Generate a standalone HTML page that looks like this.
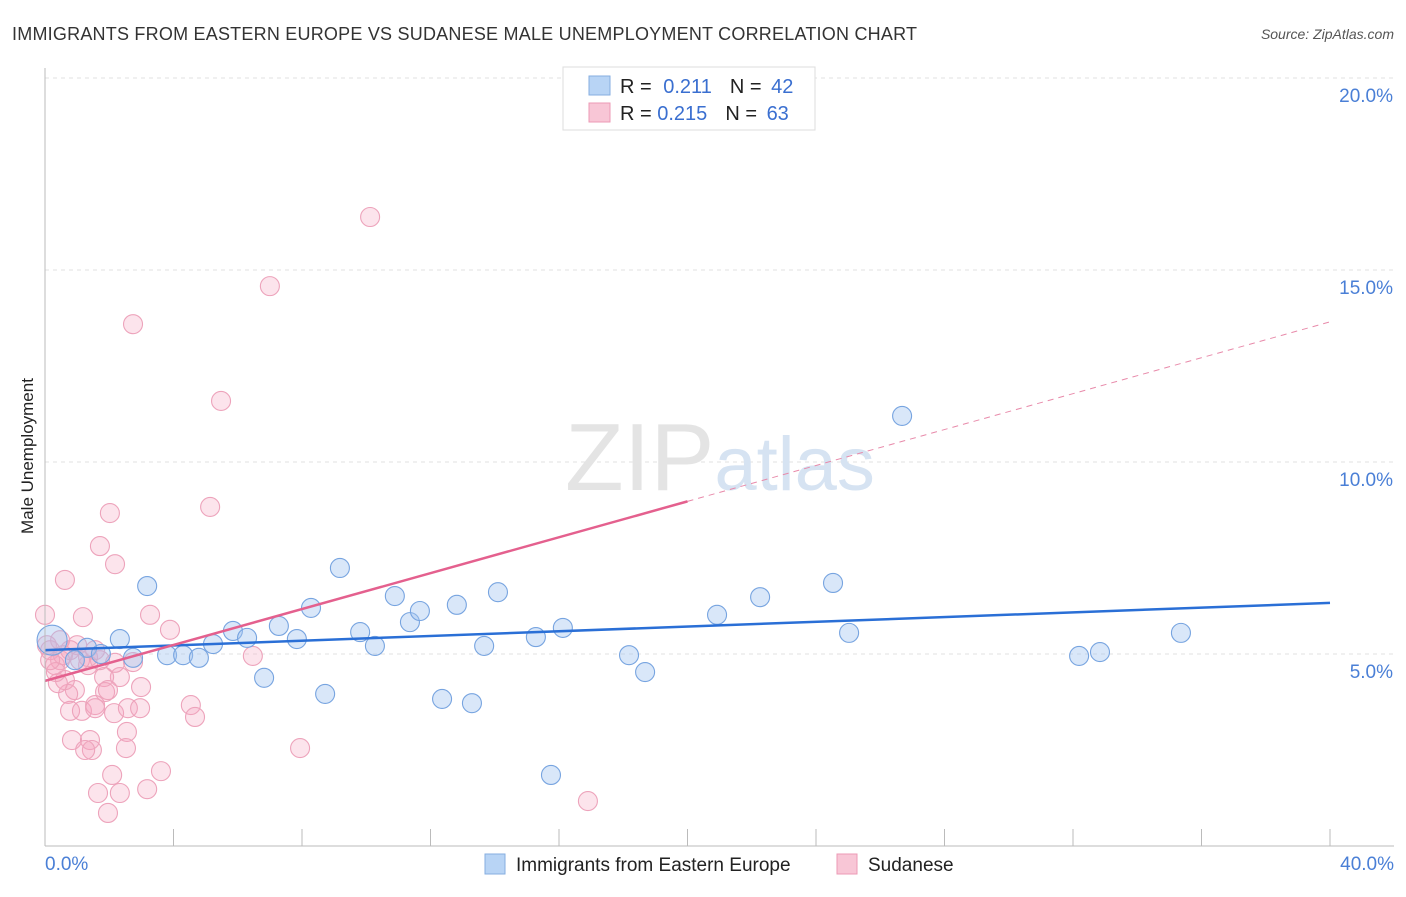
<!DOCTYPE html>
<html><head><meta charset="utf-8"><style>
body{margin:0;background:#fff;font-family:"Liberation Sans",sans-serif;}
svg text{font-family:"Liberation Sans",sans-serif;}
</style></head><body>
<svg id="chart" width="1406" height="892">
<text x="12" y="40" font-size="18" fill="#333" textLength="905">IMMIGRANTS FROM EASTERN EUROPE VS SUDANESE MALE UNEMPLOYMENT CORRELATION CHART</text>
<text x="1394" y="39" font-size="14" fill="#555" font-style="italic" text-anchor="end">Source: ZipAtlas.com</text>
<text x="33" y="456" font-size="17" fill="#222" text-anchor="middle" transform="rotate(-90 33 456)">Male Unemployment</text>
<g id="grid"></g>
<g id="wm"><text x="720" y="490" font-size="96" fill="#e4e4e4" text-anchor="middle" font-family="Liberation Serif"><tspan>ZIP</tspan><tspan fill="#d6e3f2" font-family="Liberation Sans" font-size="76">atlas</tspan></text></g>
<g id="pts"></g>
<g id="lines"></g>
<g id="axes"></g>
<g>
<rect x="563" y="67" width="252" height="63" fill="#fff" stroke="#ddd"/>
<rect x="589" y="76" width="21" height="19" fill="#b8d4f5" stroke="#86aee0"/>
<rect x="589" y="103" width="21" height="19" fill="#f8c6d6" stroke="#ec9ab5"/>
<text x="620" y="93" font-size="20" fill="#222">R = <tspan fill="#3a6fd0" dx="6">0.211</tspan><tspan fill="#222" dx="18">N = </tspan><tspan fill="#3a6fd0" dx="4">42</tspan></text>
<text x="620" y="120" font-size="20" fill="#222">R = <tspan fill="#3a6fd0">0.215</tspan><tspan fill="#222" dx="18">N = </tspan><tspan fill="#3a6fd0" dx="4">63</tspan></text>
</g>
<g>
<rect x="485" y="854" width="20" height="20" fill="#b8d4f5" stroke="#86aee0"/>
<text x="516" y="871" font-size="19" fill="#222">Immigrants from Eastern Europe</text>
<rect x="837" y="854" width="20" height="20" fill="#f8c6d6" stroke="#ec9ab5"/>
<text x="868" y="871" font-size="19" fill="#222">Sudanese</text>
</g>
</svg>
<script>
const blueX=[3.18,2.33,1.31,1.74,2.74,3.80,4.30,4.79,5.23,5.85,6.29,6.82,7.28,7.84,8.28,8.72,9.18,9.81,10.27,10.89,11.36,11.67,12.36,12.82,13.29,13.67,14.10,15.28,15.75,16.12,18.18,18.68,20.92,22.26,24.53,25.03,26.68,32.19,32.84,35.36,0.22,0.93];
const blueY=[6.77,5.39,5.16,5.00,4.90,4.97,4.97,4.90,5.26,5.60,5.42,4.38,5.73,5.39,6.20,3.96,7.24,5.57,5.21,6.51,5.83,6.12,3.83,6.28,3.72,5.21,6.61,5.44,1.85,5.68,4.97,4.53,6.02,6.48,6.85,5.55,11.20,4.95,5.05,5.55,5.36,4.84];
const pinkX=[0,0.62,1.18,2.02,1.71,2.18,2.74,3.27,3.89,5.14,5.48,7.00,10.12,6.47,7.94,16.90,4.54,4.67,2.74,2.33,1.84,1.87,1.96,0.93,0.72,0.78,1.15,1.56,1.56,2.15,2.58,2.96,2.99,0.84,1.40,1.46,1.25,2.55,2.52,2.09,3.61,3.18,1.65,2.33,1.96,1.00,1.34,0.47,0.16,0.31,0.56,0.06,0.62,0.40,1.09,1.71,0.78,1.34,0.34,0.16,1.56,2.18,0.47];
const pinkY=[6.02,6.93,5.96,8.67,7.81,7.34,13.59,6.02,5.63,8.83,11.59,14.58,16.38,4.95,2.55,1.17,3.67,3.36,4.79,4.40,4.40,4.01,4.06,4.06,3.96,3.52,3.52,3.67,3.59,3.46,3.59,3.59,4.14,2.76,2.76,2.50,2.50,2.97,2.55,1.85,1.95,1.48,1.38,1.38,0.86,5.23,4.71,4.84,5.10,4.71,4.97,5.23,4.32,4.24,4.84,4.84,5.10,4.92,4.53,4.84,5.10,4.77,5.36];
const blueTrend=[5.10,6.33];
const pinkTrend=[4.30,13.65];
const yTicks=[5,10,15,20];
const xTickLabels=["0.0%","40.0%"];
const NS="http://www.w3.org/2000/svg";
const sx=v=>45+v*1285/40, sy=v=>846-v*38.4;
function mk(t,a,p){const e=document.createElementNS(NS,t);for(const k in a)e.setAttribute(k,a[k]);p.appendChild(e);return e;}
const grid=document.getElementById('grid'),axes=document.getElementById('axes'),pts=document.getElementById('pts'),lines=document.getElementById('lines');
yTicks.forEach(v=>{
 const l=mk('line',{x1:45,x2:1394,y1:sy(v),y2:sy(v),stroke:'#e2e2e2','stroke-dasharray':'4,4'},grid);
 
 
 const t=mk('text',{x:1393,y:sy(v)+24,'font-size':19,fill:'#4a7fd6','text-anchor':'end'},axes);
 t.textContent=v.toFixed(1)+'%';
 
 
});
mk('line',{x1:45,x2:45,y1:68,y2:846,stroke:'#bbb'},axes);
mk('line',{x1:45,x2:1394,y1:846,y2:846,stroke:'#bbb'},axes);
for(let i=1;i<=10;i++){mk('line',{x1:sx(i*4),x2:sx(i*4),y1:829,y2:846,stroke:'#bbb'},axes);}
[[0,'start',45],[40,'end',1394]].forEach((d,i)=>{
 const t=mk('text',{x:d[2],y:870,'font-size':19,fill:'#4a7fd6','text-anchor':d[1]},axes);
 t.textContent=xTickLabels[i];
 
 
});
pinkX.forEach((x,i)=>{
 const c=mk('circle',{cx:sx(x),cy:sy(pinkY[i]),r:9.5,fill:'rgba(245,165,192,0.3)',stroke:'#eda3bb','stroke-width':1.1},pts);
 
 
});
blueX.forEach((x,i)=>{
 const big=(i===40);
 const c=mk('circle',{cx:sx(x),cy:sy(blueY[i]),r:big?15:9.5,fill:'rgba(160,195,240,0.4)',stroke:'#77a4e0','stroke-width':1.1},pts);
 
 
});
const bl=mk('line',{x1:sx(0),y1:sy(blueTrend[0]),x2:sx(40),y2:sy(blueTrend[1]),stroke:'#2a6fd6','stroke-width':2.5},lines);


const pm=pinkTrend[0]+(pinkTrend[1]-pinkTrend[0])*0.5;
const pl=mk('line',{x1:sx(0),y1:sy(pinkTrend[0]),x2:sx(20),y2:sy(pm),stroke:'#e4608e','stroke-width':2.5},lines);


const pd=mk('line',{x1:sx(20),y1:sy(pm),x2:sx(40),y2:sy(pinkTrend[1]),stroke:'#e88aaa','stroke-width':1,'stroke-dasharray':'6,5'},lines);


</script>
</body></html>
